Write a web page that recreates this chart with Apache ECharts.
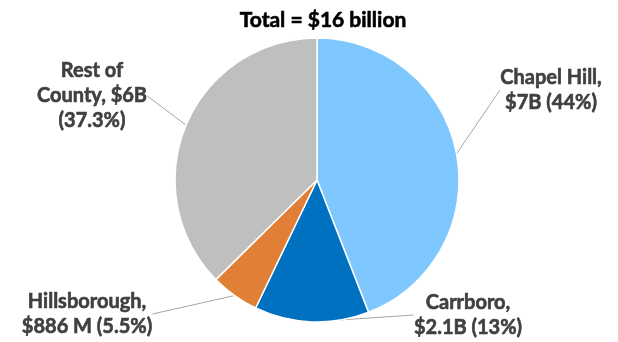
<!DOCTYPE html>
<html>
<head>
<meta charset="utf-8">
<script src="https://cdn.jsdelivr.net/npm/echarts@6/dist/echarts.min.js"></script>
<style>
  html,body{margin:0;padding:0;background:#fff;}
  #main{width:618px;height:342px;}
</style>
</head>
<body>
<div id="main"></div>
<script>
// slices, clockwise from 12 o'clock
var places = ['Chapel Hill', 'Carrboro', 'Hillsborough', 'Rest of County'];
var shares = [44, 13, 5.5, 37.3];
var amounts = ['$7B', '$2.1B', '$886 M', '$6B'];
var labelText = [
    'Chapel Hill,\n$7B (44%)',
    'Carrboro,\n$2.1B (13%)',
    'Hillsborough,\n$886 M (5.5%)',
    'Rest of\nCounty, $6B\n(37.3%)'
];
var colors = ['#7FC7FF', '#0070C0', '#E07F35', '#BFBFBF'];
// where each label sits (centre of text block)
var labelPos = [[551, 90], [468, 315], [87, 314], [92, 96]];

var myChart = echarts.init(document.getElementById('main'));

var pieData = [];
for (var i = 0; i < places.length; i++) {
    pieData.push({name: places[i], value: shares[i], itemStyle: {color: colors[i]}});
}

var option = {
    animation: false,
    title: {
        text: 'Total = $16 billion',
        left: 318,
        textAlign: 'center',
        top: 5,
        textStyle: {fontFamily: 'Lato', fontWeight: 'bold', fontSize: 21, color: '#000',
                    textBorderColor: '#000', textBorderWidth: 0.6}
    },
    series: [{
        type: 'pie',
        center: [317, 180],
        radius: 142,
        startAngle: 90,
        clockwise: true,
        data: pieData,
        itemStyle: {borderColor: '#fff', borderWidth: 1.5},
        label: {
            show: true,
            position: 'outside',
            formatter: function(p){ return labelText[p.dataIndex]; },
            fontFamily: 'Lato',
            fontWeight: 'bold',
            fontSize: 20,
            lineHeight: 25,
            color: '#404040',
            textBorderColor: '#404040',
            textBorderWidth: 0.6,
            align: 'center'
        },
        labelLine: {
            show: true,
            length: 20,
            length2: 0,
            lineStyle: {color: '#A6A6A6', width: 1}
        },
        labelLayout: function(params){
            var p = labelPos[params.dataIndex];
            return {x: p[0], y: p[1], align: 'center', verticalAlign: 'middle'};
        }
    }]
};

myChart.setOption(option);
</script>
</body>
</html>
